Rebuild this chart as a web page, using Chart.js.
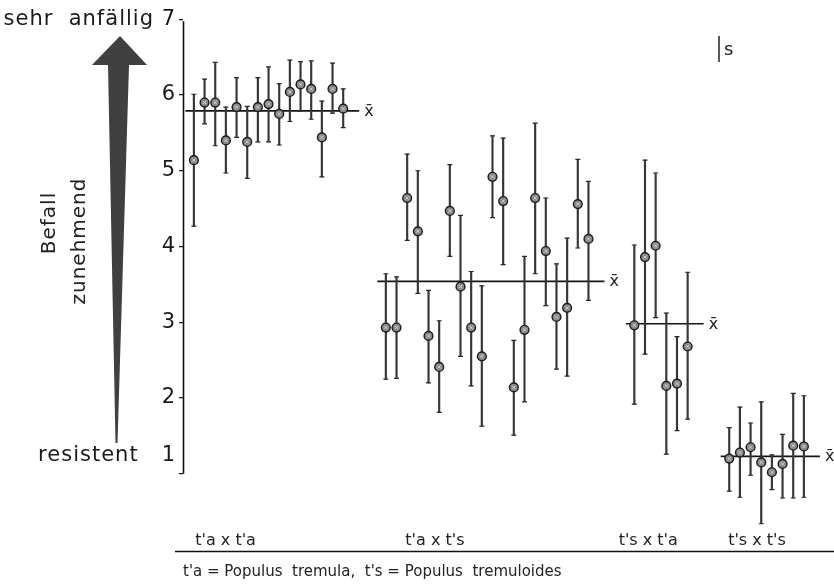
<!DOCTYPE html>
<html><head><meta charset="utf-8">
<script src="https://cdn.jsdelivr.net/npm/chart.js@4"></script>
<style>html,body{margin:0;padding:0;background:#fff}#wrap{width:834px;height:585px}</style>
</head><body><div id="wrap"><canvas id="c" width="834" height="585"></canvas></div>
<script>
// ---------- DATA ----------
const groups = ["t'a x t'a", "t'a x t's", "t's x t'a", "t's x t's"];

const taTaMean = [5.14, 5.90, 5.90, 5.40, 5.84, 5.38, 5.84, 5.88, 5.75, 6.04, 6.14, 6.08, 5.44, 6.08, 5.82];
const taTaLow  = [4.27, 5.62, 5.33, 4.97, 5.44, 4.90, 5.38, 5.38, 5.34, 5.65, 5.79, 5.68, 4.92, 5.76, 5.57];
const taTaHigh = [6.01, 6.21, 6.43, 5.84, 6.23, 5.85, 6.23, 6.37, 6.15, 6.46, 6.44, 6.45, 5.92, 6.42, 6.08];

const taTsMean = [2.93, 2.93, 4.64, 4.20, 2.82, 2.41, 4.47, 3.47, 2.93, 2.55, 4.92, 4.60, 2.14, 2.90, 4.64, 3.94, 3.07, 3.19, 4.56, 4.10];
const taTsLow  = [2.25, 2.26, 4.08, 3.38, 2.20, 1.81, 3.87, 2.55, 2.16, 1.63, 4.38, 3.76, 1.51, 1.95, 3.64, 3.22, 2.38, 2.29, 3.98, 3.29];
const taTsHigh = [3.64, 3.60, 5.22, 5.00, 3.42, 3.02, 5.08, 4.41, 3.67, 3.48, 5.46, 5.43, 2.76, 3.87, 5.63, 4.64, 3.77, 4.11, 5.15, 4.86];

const tsTaMean = [2.96, 3.86, 4.01, 2.16, 2.19, 2.68];
const tsTaLow  = [1.92, 2.58, 3.06, 1.26, 1.57, 1.72];
const tsTaHigh = [4.02, 5.14, 4.97, 3.12, 2.81, 3.66];

const tsTsMean = [1.20, 1.28, 1.35, 1.15, 1.02, 1.13, 1.37, 1.36];
const tsTsLow  = [0.77, 0.69, 0.98, 0.34, 0.79, 0.68, 0.68, 0.69];
const tsTsHigh = [1.61, 1.88, 1.67, 1.95, 1.25, 1.52, 2.06, 2.03];

const groupMeans = [5.79, 3.54, 2.98, 1.23];

const yTicks = [1, 2, 3, 4, 5, 6, 7];
const yTopText = 'sehr  anfällig';
const yBottomText = 'resistent';
const axisTitle1 = 'Befall';
const axisTitle2 = 'zunehmend';
const meanSymbol = 'x\u0304';
const legendText = 's';
const footnote = "t'a = Populus  tremula,  t's = Populus  tremuloides";

// ---------- LAYOUT (slot positions on the x scale) ----------
const groupStart = [0, 18, 41.3, 50.2];
const groupLabelSlot = [2.97, 22.6, 42.6, 52.8];

const seriesMean = [taTaMean, taTsMean, tsTaMean, tsTsMean];
const seriesLow  = [taTaLow, taTsLow, tsTaLow, tsTsLow];
const seriesHigh = [taTaHigh, taTsHigh, tsTaHigh, tsTsHigh];

const barData = [], capData = [], pointData = [];
const lineSets = [];
seriesMean.forEach((arr, g) => {
  arr.forEach((m, i) => {
    const x = groupStart[g] + i;
    barData.push({x, y: [seriesLow[g][i], seriesHigh[g][i]]});
    capData.push({x, y: seriesLow[g][i]}, {x, y: seriesHigh[g][i]});
    pointData.push({x, y: m});
  });
  const x0 = groupStart[g] - 0.8, x1 = groupStart[g] + arr.length - 1 + 1.5;
  lineSets.push({
    type: 'line', data: [{x: x0, y: groupMeans[g]}, {x: x1, y: groupMeans[g]}],
    borderColor: '#151515', borderWidth: 1.7, pointRadius: 0, fill: false
  });
});

const FONT = 'DejaVu Sans';

const deco = {
  id: 'deco',
  beforeDraw(chart) { chart.ctx.letterSpacing = '1px'; },
  beforeDatasetsDraw(chart) {
    const c = chart.ctx, y = chart.scales.y, xs = chart.scales.x;
    c.save();
    c.letterSpacing = '0px';
    // axis line from 1 to 7
    c.strokeStyle = '#111'; c.lineWidth = 1.6;
    c.beginPath();
    c.moveTo(chart.chartArea.left + 0.5, y.getPixelForValue(7) + 2);
    c.lineTo(chart.chartArea.left + 0.5, y.getPixelForValue(1));
    c.stroke();
    // arrow
    c.fillStyle = '#404040';
    c.beginPath();
    c.moveTo(120, 36);
    c.lineTo(147, 65);
    c.lineTo(129, 65);
    c.lineTo(117.5, 443);
    c.lineTo(115.5, 443);
    c.lineTo(108, 65);
    c.lineTo(92, 65);
    c.closePath();
    c.fill();
    // rotated titles
    c.fillStyle = '#222';
    c.font = '20px "' + FONT + '"';
    c.letterSpacing = '1px';
    c.textAlign = 'center'; c.textBaseline = 'middle';
    c.save(); c.translate(50, 223); c.rotate(-Math.PI / 2); c.fillText(axisTitle1, 0, 0); c.restore();
    c.save(); c.translate(80, 241); c.rotate(-Math.PI / 2); c.fillText(axisTitle2, 0, 0); c.restore();
    c.letterSpacing = '0px';
    // mean symbols
    c.font = '16px "' + FONT + '"';
    c.textAlign = 'left';
    seriesMean.forEach((arr, g) => {
      const x1 = groupStart[g] + arr.length - 1 + 1.5;
      c.fillText(meanSymbol, xs.getPixelForValue(x1) + 5, y.getPixelForValue(groupMeans[g]) + 1);
    });
    // legend |s
    c.strokeStyle = '#222'; c.lineWidth = 1.5;
    c.beginPath(); c.moveTo(719, 36); c.lineTo(719, 62); c.stroke();
    c.font = '18px "' + FONT + '"';
    c.fillText(legendText, 724, 50);
    // group labels
    c.font = '16px "' + FONT + '"';
    c.textAlign = 'center';
    groups.forEach((t, g) => c.fillText(t, xs.getPixelForValue(groupLabelSlot[g]), 541));
    // rule
    c.strokeStyle = '#111'; c.lineWidth = 1.5;
    c.beginPath(); c.moveTo(175, 551.5); c.lineTo(834, 551.5); c.stroke();
    // footnote
    c.font = '15px "' + FONT + '"';
    c.textAlign = 'left';
    c.fillText(footnote, 183, 572);
    c.restore();
  },
  afterDraw(chart) { chart.ctx.letterSpacing = '0px'; }
};

new Chart(document.getElementById('c'), {
  type: 'bar',
  data: {
    datasets: [
      { type: 'scatter', data: pointData, pointStyle: 'crossRot', pointRadius: 2.2, borderColor: '#e0e0e0', borderWidth: 0.8, backgroundColor: 'transparent' },
      { type: 'scatter', data: pointData, pointStyle: 'circle', pointRadius: 4.4, backgroundColor: '#8a8a8a', borderColor: '#1c1c1c', borderWidth: 1.4 },
      { type: 'scatter', data: capData, pointStyle: 'line', pointRadius: 2.5, borderColor: '#2a2a2a', borderWidth: 1.2 },
      { type: 'bar', data: barData, backgroundColor: '#363636', barThickness: 1.5, borderWidth: 0 },
      ...lineSets
    ]
  },
  options: {
    responsive: false, animation: false, devicePixelRatio: 1,
    layout: { padding: { top: 12, bottom: 55, left: 0, right: 0 } },
    plugins: { legend: { display: false }, tooltip: { enabled: false } },
    scales: {
      x: { type: 'linear', min: -1.022, max: 59.48, display: false, offset: false },
      y: {
        type: 'linear', min: 0.2574, max: 7.0957,
        afterFit(s) { s.width = 183; },
        afterBuildTicks(s) { s.ticks = yTicks.map(v => ({ value: v })); },
        border: { display: false },
        grid: { drawOnChartArea: false, drawTicks: true, tickLength: 4, color: '#222', lineWidth: 1.3 },
        ticks: {
          font: { family: FONT, size: 21, lineHeight: 0.85 }, color: '#1a1a1a', padding: 3,
          callback(v) {
            if (v === 7) return yTopText + ' 7';
            if (v === 1) return [yBottomText + '   1', '', ''];
            return String(v);
          }
        }
      }
    }
  },
  plugins: [deco]
});
</script></body></html>
